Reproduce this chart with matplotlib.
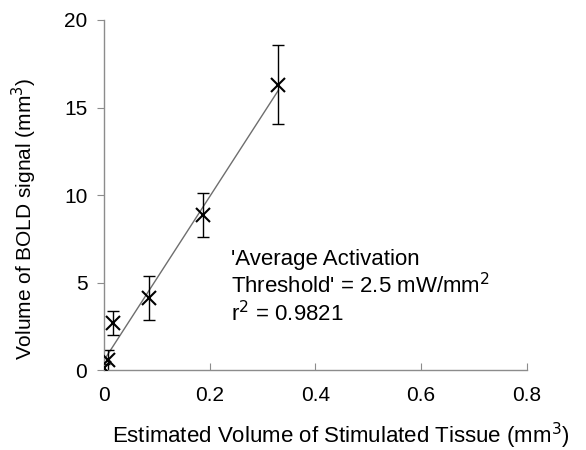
import numpy as np
import matplotlib
matplotlib.use("Agg")
from matplotlib import pyplot as plt

plt.rcParams['font.family'] = ['Liberation Sans', 'DejaVu Sans']

# Data
tissue_volume = [0.0, 0.007, 0.017, 0.085, 0.187, 0.330]
bold_volume = [0.17, 0.57, 2.70, 4.15, 8.85, 16.30]
bold_error = [0.20, 0.60, 0.67, 1.26, 1.25, 2.25]

xticks = [0, 0.2, 0.4, 0.6, 0.8]
xticklabels = ["0", "0.2", "0.4", "0.6", "0.8"]
yticks = [0, 5, 10, 15, 20]

# Linear trend line over the data range
slope, intercept = np.polyfit(tissue_volume, bold_volume, 1)
fit_x = np.array([min(tissue_volume), max(tissue_volume)])
fit_y = slope * fit_x + intercept

fig = plt.figure(figsize=(5.86, 4.5), dpi=100)
ax = fig.add_axes([0.1775, 0.1767, 0.7215, 0.7789])

ax.plot(fit_x, fit_y, c='#6e6e6e', lw=1.0, zorder=1)
ax.errorbar(tissue_volume, bold_volume, yerr=bold_error, fmt='none',
            ecolor='k', elinewidth=1.0, capsize=4, capthick=1.0, zorder=2)
ax.plot(tissue_volume, bold_volume, ls='none', marker='x', ms=10, mew=1.5,
        c='k', zorder=3)

ax.set_xlim(0, 0.8)
ax.set_ylim(0, 20)
ax.set_xticks(xticks)
ax.set_xticklabels(xticklabels)
ax.set_yticks(yticks)

for side in ["top", "right"]:
    ax.spines[side].set_visible(False)
for side in ["left", "bottom"]:
    ax.spines[side].set_color('#8c8c8c')
    ax.spines[side].set_linewidth(1.0)

ax.tick_params(axis='y', direction='out', length=5, color='#8c8c8c',
               labelsize=15, pad=7)
ax.tick_params(axis='x', direction='in', length=5, color='#8c8c8c',
               labelsize=15, pad=11)

fig.text(24 / 586, 0.513, "Volume of BOLD signal (mm$^3$)", fontsize=15,
         rotation=90, ha='center', va='center')
fig.text(340.5 / 586, 7 / 450, "Estimated Volume of Stimulated Tissue (mm$^3$)",
         fontsize=16, ha='center', va='baseline')

ax.text(0.240, 6.94, "'Average Activation\nThreshold' = 2.5 mW/mm$^2$\nr$^2$ = 0.9821",
        fontsize=16, va='top', ha='left', linespacing=1.15)

fig.savefig("out.png", dpi=100)
